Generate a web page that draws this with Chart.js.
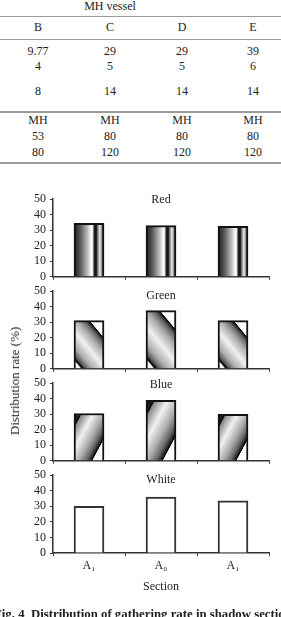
<!DOCTYPE html>
<html>
<head>
<meta charset="utf-8">
<script src="https://cdn.jsdelivr.net/npm/chart.js@4.4.1/dist/chart.umd.min.js"></script>
<style>
  body { margin: 0; width: 281px; height: 617px; overflow: hidden; position: relative; background: #fff;
         font-family: "Liberation Serif", "Times New Roman", serif; color: #222; }
  canvas { position: absolute; left: 0; }
  .cell { position: absolute; width: 70px; text-align: center; font-size: 12px; line-height: 14px; }
  .rule { position: absolute; left: 0; width: 281px; background: #9a9a9a; }
  #ylabel { position: absolute; left: 15px; top: 381px; font-size: 13px; white-space: nowrap;
            transform: translate(-50%, -50%) rotate(-90deg); }
  #caption { position: absolute; left: -6px; top: 607px; font-size: 12.8px; font-weight: bold; white-space: nowrap; }
</style>
</head>
<body>
<div id="table"></div>
<canvas id="red" width="281" height="100" style="top:188px"></canvas>
<canvas id="green" width="281" height="100" style="top:280px"></canvas>
<canvas id="blue" width="281" height="100" style="top:372px"></canvas>
<canvas id="white" width="281" height="132" style="top:464px"></canvas>
<div id="ylabel">Distribution rate (%)</div>
<div id="caption">Fig. 4&nbsp;&nbsp;Distribution of gathering rate in shadow section</div>
<script>
// datos de la tabla (parte superior, recortada)
const vesselTitle = "MH vessel";
const vesselCols = ["B", "C", "D", "E"];
const vesselRows = [
  ["9.77", "29", "29", "39"],
  ["4", "5", "5", "6"],
  ["8", "14", "14", "14"],
  ["MH", "MH", "MH", "MH"],
  ["53", "80", "80", "80"],
  ["80", "120", "120", "120"],
];

// datos del grafico
const sections = ["A\u2081", "A\u2080", "A\u2081"];
const redRate = [34.5, 33, 32.5];
const greenRate = [31, 37.5, 31];
const blueRate = [30.5, 39, 30];
const whiteRate = [30, 36, 33.5];
const yMin = 0;
const yMax = 50;
const yStep = 10;

// tabla
const colX = [38, 110, 182, 253];
const rowY = [51, 66, 91, 120, 136, 152];
const table = document.getElementById("table");
function addCell(text, cx, cy) {
  const d = document.createElement("div");
  d.className = "cell";
  d.textContent = text;
  d.style.left = cx - 35 + "px";
  d.style.top = cy - 7 + "px";
  table.appendChild(d);
}
function addRule(y, h) {
  const d = document.createElement("div");
  d.className = "rule";
  d.style.top = y + "px";
  d.style.height = h + "px";
  table.appendChild(d);
}
addCell(vesselTitle, 110, 6);
vesselCols.forEach((c, i) => addCell(c, colX[i], 27));
vesselRows.forEach((row, r) => row.forEach((c, i) => addCell(c, colX[i], rowY[r])));
addRule(16, 1);
addRule(39, 1);
addRule(111, 1.5);
addRule(162, 2);

Chart.defaults.font.family = "'Liberation Serif', 'Times New Roman', serif";
Chart.defaults.font.size = 12;
Chart.defaults.color = "#222";

const BAR_W = 30;

function barBox(context) {
  const chart = context.chart;
  const x = chart.scales.x.getPixelForValue(context.dataIndex);
  const top = chart.scales.y.getPixelForValue(context.raw);
  const bottom = chart.scales.y.getPixelForValue(0);
  return { left: x - BAR_W / 2, right: x + BAR_W / 2, top, bottom };
}

// degradados de cada panel
const redStops = [
  [0, "#111"], [0.08, "#333"], [0.2, "#555"], [0.45, "#bbb"], [0.58, "#fff"],
  [0.63, "#ddd"], [0.67, "#222"], [0.74, "#111"], [0.78, "#666"], [0.86, "#eee"],
  [0.94, "#777"], [1, "#222"],
];
const greenStops = [
  [0, "#fff"], [0.1, "#fafafa"], [0.11, "#444"], [0.13, "#000"], [0.16, "#555"],
  [0.26, "#aaa"], [0.45, "#f0f0f0"], [0.62, "#aaa"], [0.72, "#666"], [0.77, "#222"],
  [0.79, "#000"], [0.8, "#fff"], [1, "#fff"],
];
const blueStops = [
  [0, "#111"], [0.1, "#222"], [0.13, "#000"], [0.15, "#888"], [0.35, "#f2f2f2"],
  [0.55, "#aaa"], [0.68, "#666"], [0.75, "#222"], [0.78, "#000"], [0.79, "#fff"],
  [1, "#fff"],
];

function redFill(context) {
  if (!context.chart.chartArea || context.dataIndex === undefined) return "#888";
  const b = barBox(context);
  const g = context.chart.ctx.createLinearGradient(b.left, 0, b.right, 0);
  redStops.forEach(([p, c]) => g.addColorStop(p, c));
  return g;
}

// rayas diagonales: "down" = \ , "up" = /
function diagonalFill(stops, angle, dir) {
  const sn = Math.sin((angle * Math.PI) / 180);
  const cs = Math.cos((angle * Math.PI) / 180);
  return function (context) {
    if (!context.chart.chartArea || context.dataIndex === undefined) return "#888";
    const b = barBox(context);
    const w = b.right - b.left;
    const h = b.bottom - b.top;
    let nx, ny, sMin, sMax;
    if (dir === "down") {
      nx = sn; ny = -cs; sMin = -h * cs; sMax = w * sn;
    } else {
      nx = sn; ny = cs; sMin = 0; sMax = w * sn + h * cs;
    }
    const g = context.chart.ctx.createLinearGradient(
      b.left + sMin * nx, b.top + sMin * ny,
      b.left + sMax * nx, b.top + sMax * ny
    );
    stops.forEach(([p, c]) => g.addColorStop(p, c));
    return g;
  };
}

const panelTitle = {
  id: "panelTitle",
  afterDatasetsDraw(chart, args, opts) {
    const { ctx, chartArea } = chart;
    ctx.save();
    ctx.font = "12px 'Liberation Serif', serif";
    ctx.fillStyle = "#222";
    ctx.textAlign = "center";
    ctx.textBaseline = "middle";
    ctx.fillText(opts.text, (chartArea.left + chartArea.right) / 2, chartArea.top + opts.offset);
    ctx.restore();
  },
};

function makePanel(id, title, values, fill, border, titleOffset, last) {
  const ctx = document.getElementById(id).getContext("2d");
  return new Chart(ctx, {
    type: "bar",
    data: {
      labels: sections,
      datasets: [
        {
          data: values,
          backgroundColor: fill,
          borderColor: border,
          borderWidth: 2,
          barThickness: BAR_W,
        },
      ],
    },
    options: {
      responsive: false,
      animation: false,
      layout: { padding: { top: 10, right: 12, bottom: last ? 2 : 8, left: 0 } },
      plugins: {
        legend: { display: false },
        tooltip: { enabled: false },
        panelTitle: { text: title, offset: titleOffset },
      },
      scales: {
        x: {
          grid: { drawOnChartArea: false, tickLength: 3, color: "#333", offset: true },
          border: { color: "#333", width: 1.5 },
          ticks: { display: last, padding: 3, color: "#222" },
          title: { display: last, text: "Section", padding: 0, color: "#222" },
          afterFit: (s) => {
            s.height = last ? 41 : 3;
          },
        },
        y: {
          min: yMin,
          max: yMax,
          ticks: { stepSize: yStep, padding: 4, color: "#222", autoSkip: false },
          grid: { drawOnChartArea: false, tickLength: 3, color: "#333" },
          border: { color: "#333", width: 1.5 },
          afterFit: (s) => {
            s.width = 53;
          },
        },
      },
    },
    plugins: [panelTitle],
  });
}

makePanel("red", "Red", redRate, redFill, "#111", 1, false);
makePanel("green", "Green", greenRate, diagonalFill(greenStops, 50, "down"), "#111", 5, false);
makePanel("blue", "Blue", blueRate, diagonalFill(blueStops, 62, "up"), "#111", 2, false);
makePanel("white", "White", whiteRate, "#fff", "#333", 5, true);
</script>
</body>
</html>
